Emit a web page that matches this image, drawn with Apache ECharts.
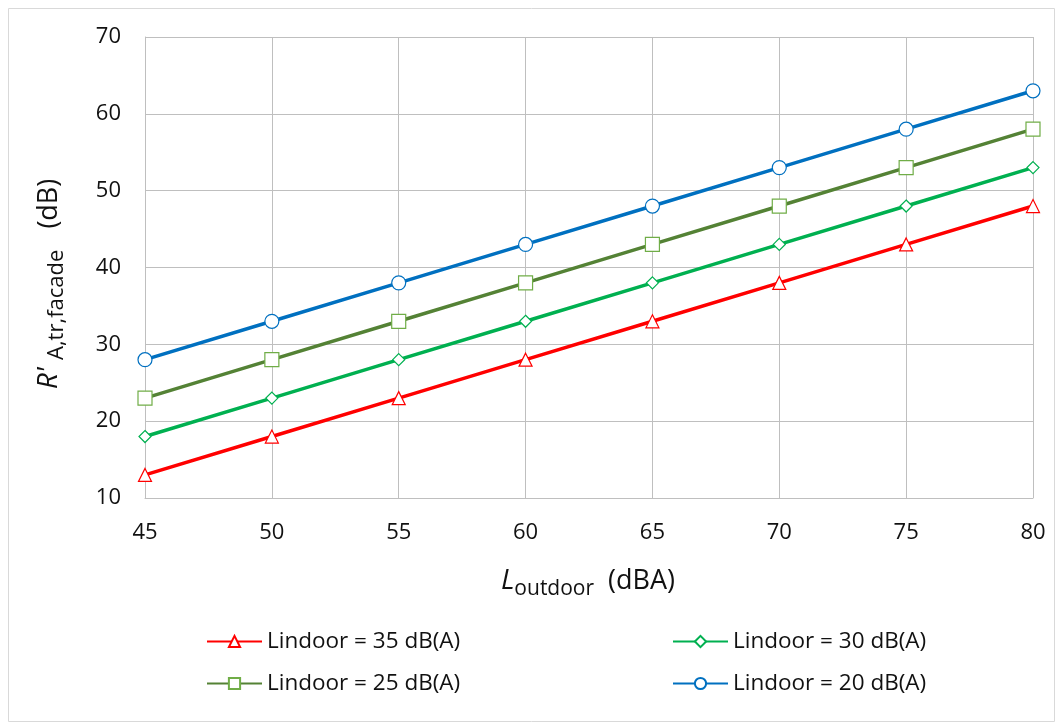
<!DOCTYPE html>
<html><head><meta charset="utf-8">
<script src="https://cdn.jsdelivr.net/npm/echarts@6/dist/echarts.min.js"></script>
<style>html,body{margin:0;padding:0;background:#fff}#c{width:1058px;height:725px}</style>
</head><body><div id="c"></div>
<script>
const xValues = [45, 50, 55, 60, 65, 70, 75, 80];
const s35 = [13, 18, 23, 28, 33, 38, 43, 48];
const s30 = [18, 23, 28, 33, 38, 43, 48, 53];
const s25 = [23, 28, 33, 38, 43, 48, 53, 58];
const s20 = [28, 33, 38, 43, 48, 53, 58, 63];
const names = ['Lindoor = 35 dB(A)', 'Lindoor = 30 dB(A)', 'Lindoor = 25 dB(A)', 'Lindoor = 20 dB(A)'];
const xTitleParts = ['L', 'outdoor', '  (dBA)'];
const yTitleParts = ["R' ", 'A,tr,facade', '   (dB)'];
const colors = ['#FF0000', '#00B050', '#548235', '#0070C0'];
const borders = ['#FF0000', '#00B050', '#70AD47', '#0070C0'];
const symbols = ['triangle', 'diamond', 'rect', 'circle'];
const sizes = [13, 12, 14, 14];
const FONT = 'Open Sans';
const TXT = '#111';

const cv = document.createElement('canvas').getContext('2d');
function tw(font, s) { cv.font = font; return cv.measureText(s).width; }
function titleGroup(parts, cx, cy, rot, subSize) {
  const fonts = ['italic 28px "' + FONT + '"', subSize + 'px "' + FONT + '"', '27px "' + FONT + '"'];
  const dys = [0, 8, 0];
  const widths = parts.map((p, i) => tw(fonts[i], p));
  const total = widths.reduce((a, b) => a + b, 0);
  let x = -total / 2;
  const children = parts.map((p, i) => {
    const el = {
      type: 'text', x: x, y: dys[i],
      style: { text: p, font: fonts[i], fill: TXT, align: 'left', verticalAlign: 'middle',
               textAlign: 'left', textVerticalAlign: 'middle' }
    };
    x += widths[i];
    return el;
  });
  return { type: 'group', x: cx, y: cy, rotation: rot, children: children, silent: true };
}

const chart = echarts.init(document.getElementById('c'));
const data = [s35, s30, s25, s20];
const series = data.map((d, i) => ({
  name: names[i], type: 'line',
  data: d.map((v, j) => [xValues[j], v]),
  lineStyle: { color: colors[i], width: 3.5 },
  itemStyle: { color: '#fff', borderColor: borders[i], borderWidth: 1.2 },
  symbol: symbols[i], symbolSize: sizes[i], showSymbol: true,
  z: 3 + i
}));
const legendBase = {
  orient: 'vertical', itemWidth: 55, itemHeight: 14, itemGap: 19,
  textStyle: { fontFamily: FONT, fontSize: 22.5, color: TXT }
};
chart.setOption({
  animation: false,
  textStyle: { fontFamily: FONT },
  grid: { left: 145, right: 25, top: 37, bottom: 227, containLabel: false, outerBoundsMode: 'none' },
  legend: [
    Object.assign({}, legendBase, { left: 201, top: 625, data: [names[0], names[2]] }),
    Object.assign({}, legendBase, { left: 667, top: 625, data: [names[1], names[3]] })
  ],
  xAxis: {
    type: 'value', min: 45, max: 80, interval: 5,
    axisLine: { show: true, lineStyle: { color: '#BFBFBF', width: 1 } },
    axisTick: { show: false },
    splitLine: { show: true, lineStyle: { color: '#BFBFBF', width: 1 } },
    axisLabel: { fontFamily: FONT, fontSize: 22, color: TXT, margin: 24 }
  },
  yAxis: {
    type: 'value', min: 10, max: 70, interval: 10,
    axisLine: { show: true, lineStyle: { color: '#BFBFBF', width: 1 } },
    axisTick: { show: false },
    splitLine: { show: true, lineStyle: { color: '#BFBFBF', width: 1 } },
    axisLabel: { fontFamily: FONT, fontSize: 22, color: TXT, margin: 24 }
  },
  graphic: [
    {
      type: 'rect', left: 6, top: 6, silent: true, z: -1,
      shape: { width: 1046, height: 713 },
      style: { fill: 'none', stroke: '#D9D9D9', lineWidth: 1 }
    },
    titleGroup(xTitleParts, 588, 581, 0, 21),
    titleGroup(yTitleParts, 49, 284, Math.PI / 2, 22)
  ],
  series: series
});
</script></body></html>
